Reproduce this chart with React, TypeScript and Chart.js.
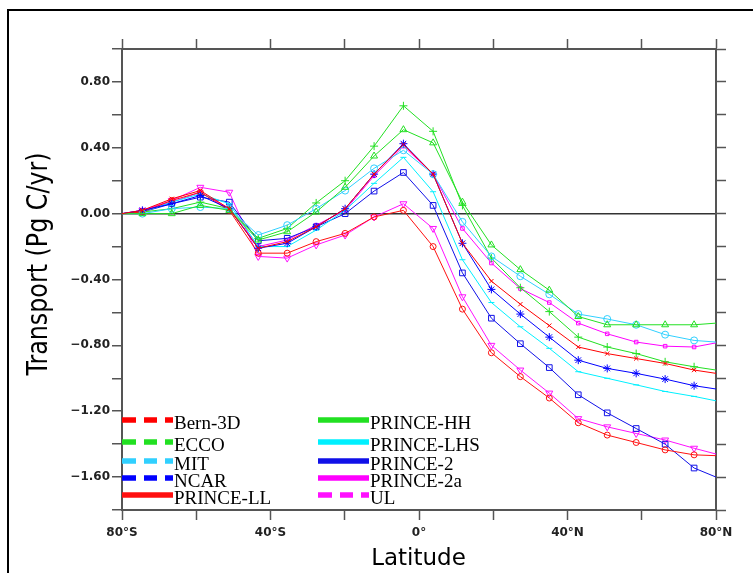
import React, { useEffect, useRef } from "react";
import { Chart, registerables } from "chart.js";

Chart.register(...registerables);

// Latitudes of the data points (degrees, negative = south)
const lats = [-80, -74.5, -66.6, -58.9, -51.1, -43.3, -35.5, -27.7, -19.9, -12.1, -4.2, 3.8, 11.7, 19.5, 27.3, 35.1, 42.9, 50.7, 58.5, 66.3, 74.1, 80];

// Transport values (Pg C/yr)
const bern3D = [0, 0.02, 0.09, 0.14, 0.03, -0.21, -0.17, -0.08, 0.03, 0.24, 0.42, 0.24, -0.18, -0.41, -0.55, -0.68, -0.81, -0.85, -0.88, -0.91, -0.95, -0.97];
const ecco = [0, 0.0, 0.0, 0.05, 0.02, -0.16, -0.11, 0.01, 0.16, 0.35, 0.51, 0.43, 0.07, -0.19, -0.34, -0.465, -0.625, -0.675, -0.675, -0.675, -0.675, -0.665];
const mit = [0, 0.0, 0.03, 0.04, 0.03, -0.13, -0.07, 0.03, 0.14, 0.275, 0.385, 0.24, -0.05, -0.26, -0.38, -0.49, -0.61, -0.64, -0.675, -0.735, -0.77, -0.78];
const ncar = [0, 0.02, 0.06, 0.11, 0.03, -0.21, -0.18, -0.08, 0.03, 0.24, 0.425, 0.24, -0.18, -0.46, -0.61, -0.75, -0.89, -0.94, -0.97, -1.005, -1.045, -1.065];
const princeLL = [0, 0.01, 0.08, 0.13, 0.02, -0.24, -0.24, -0.17, -0.12, -0.02, 0.02, -0.2, -0.58, -0.845, -0.99, -1.12, -1.27, -1.345, -1.39, -1.435, -1.465, -1.47];
const princeHH = [0, 0.01, 0.03, 0.07, 0.03, -0.15, -0.09, 0.065, 0.2, 0.41, 0.655, 0.5, 0.05, -0.27, -0.45, -0.595, -0.75, -0.81, -0.85, -0.9, -0.93, -0.95];
const princeLHS = [0, 0.01, 0.07, 0.12, 0.06, -0.2, -0.2, -0.1, 0.02, 0.184, 0.342, 0.133, -0.28, -0.54, -0.687, -0.818, -0.96, -1.0, -1.04, -1.08, -1.11, -1.137];
const prince2 = [0, 0.01, 0.06, 0.1, 0.07, -0.165, -0.15, -0.08, 0.0, 0.137, 0.25, 0.05, -0.36, -0.635, -0.79, -0.935, -1.1, -1.21, -1.305, -1.4, -1.545, -1.6];
const prince2a = [0, 0.02, 0.07, 0.13, 0.03, -0.2, -0.16, -0.07, 0.02, 0.23, 0.41, 0.24, -0.09, -0.3, -0.455, -0.54, -0.665, -0.73, -0.78, -0.805, -0.81, -0.785];
const ul = [0, 0.02, 0.08, 0.16, 0.13, -0.26, -0.27, -0.19, -0.13, -0.02, 0.06, -0.09, -0.505, -0.8, -0.95, -1.09, -1.245, -1.295, -1.335, -1.375, -1.425, -1.46];

// x-axis labelled ticks
const xTickLabels: Record<string, string> = { "-80": "80°S", "-40": "40°S", "0": "0°", "40": "40°N", "80": "80°N" };

// Series definitions (legend order: left column then right column)
const series = [
  { label: "Bern-3D", values: bern3D, color: "#ff0000", marker: "crossRot", size: 3, rot: 0, dashed: true },
  { label: "ECCO", values: ecco, color: "#22e022", marker: "triangle", size: 4, rot: 0, dashed: true },
  { label: "MIT", values: mit, color: "#30d0ff", marker: "circle", size: 3.5, rot: 0, dashed: true },
  { label: "NCAR", values: ncar, color: "#0000ff", marker: "star", size: 4, rot: 0, dashed: true },
  { label: "PRINCE-LL", values: princeLL, color: "#ff1010", marker: "circle", size: 3, rot: 0, dashed: false },
  { label: "PRINCE-HH", values: princeHH, color: "#22e022", marker: "cross", size: 4, rot: 0, dashed: false },
  { label: "PRINCE-LHS", values: princeLHS, color: "#00f0ff", marker: "line", size: 3, rot: 0, dashed: false },
  { label: "PRINCE-2", values: prince2, color: "#1010e8", marker: "rect", size: 4, rot: 0, dashed: false },
  { label: "PRINCE-2a", values: prince2a, color: "#ff00ff", marker: "rect", size: 2.5, rot: 0, dashed: false },
  { label: "UL", values: ul, color: "#ff10ff", marker: "triangle", size: 4, rot: 180, dashed: true },
];

const overlayPlugin = {
  id: "overlay",
  afterDraw(chart: any) {
    const ctx = chart.ctx as CanvasRenderingContext2D;
    const area = chart.chartArea;
    ctx.save();
    // outer frame
    ctx.strokeStyle = "#000";
    ctx.lineWidth = 2;
    ctx.strokeRect(8, 10, 800, 700);

    // y title
    ctx.save();
    ctx.translate(46.5, 264);
    ctx.rotate(-Math.PI / 2);
    ctx.scale(0.82, 1);
    ctx.font = "29px 'DejaVu Sans'";
    ctx.fillStyle = "#000";
    ctx.textAlign = "center";
    ctx.textBaseline = "alphabetic";
    ctx.fillText("Transport (Pg C/yr)", 0, 0);
    ctx.restore();

    // x title
    ctx.font = "23px 'DejaVu Sans'";
    ctx.fillStyle = "#000";
    ctx.textAlign = "center";
    ctx.textBaseline = "alphabetic";
    ctx.fillText("Latitude", (area.left + area.right) / 2 - 0.5, 565);

    // legend
    const rows = [420, 442, 461, 478, 495];
    const cols = [area.left, area.left + 196];
    const lineLen = 51;
    ctx.textAlign = "left";
    ctx.font = "19px 'Liberation Serif'";
    chart.data.datasets.forEach((ds: any, i: number) => {
      const col = Math.floor(i / 5);
      const row = i % 5;
      const x0 = cols[col];
      const y = rows[row];
      ctx.save();
      ctx.beginPath();
      ctx.rect(x0, y - 5, lineLen, 10);
      ctx.clip();
      ctx.beginPath();
      ctx.strokeStyle = ds.borderColor;
      ctx.lineWidth = 5.5;
      ctx.lineCap = "butt";
      if (series[i].dashed) ctx.setLineDash([14, 8, 13, 8]);
      ctx.moveTo(x0, y);
      ctx.lineTo(x0 + lineLen, y);
      ctx.stroke();
      ctx.restore();
      ctx.fillStyle = "#000";
      ctx.fillText(ds.label, x0 + lineLen + 1, y + 9);
    });
    ctx.restore();
  },
};

export default function App() {
  const ref = useRef<HTMLCanvasElement>(null);
  useEffect(() => {
    if (!ref.current) return;
    const n = lats.length;
    const tickFont = { family: "'DejaVu Sans'", size: 12, weight: "bold" as const };
    const axisCommon = {
      border: { display: true, color: "#555", width: 2 },
    };
    const chart = new Chart(ref.current, {
      type: "line",
      data: {
        datasets: series.map((s) => ({
          label: s.label,
          data: lats.map((lat, i) => ({ x: lat, y: s.values[i] })),
          borderColor: s.color,
          backgroundColor: "rgba(0,0,0,0)",
          borderWidth: 1,
          pointStyle: s.marker as any,
          pointRotation: s.rot,
          pointRadius: (c: any) => (c.dataIndex === 0 || c.dataIndex === n - 1 ? 0 : s.size),
          pointBorderWidth: 1,
          pointBorderColor: s.color,
          pointBackgroundColor: "rgba(0,0,0,0)",
          tension: 0,
          fill: false,
        })),
      },
      options: {
        animation: false,
        responsive: false,
        devicePixelRatio: 1,
        layout: { padding: 0 },
        plugins: { legend: { display: false }, tooltip: { enabled: false } },
        scales: {
          x: {
            type: "linear",
            position: "bottom",
            min: -80,
            max: 80,
            ...axisCommon,
            ticks: {
              stepSize: 20,
              autoSkip: false,
              maxRotation: 0,
              padding: 6,
              color: "#222",
              font: tickFont,
              callback: (v: any) => xTickLabels[String(Math.round(Number(v)))] ?? "",
            },
            grid: { drawOnChartArea: false, tickLength: 10, tickColor: "#555", tickWidth: 1.5 },
            afterFit: (s: any) => { s.height = 63; },
          },
          x2: {
            type: "linear",
            position: "top",
            min: -80,
            max: 80,
            ...axisCommon,
            ticks: { stepSize: 20, autoSkip: false, callback: () => "", font: tickFont },
            grid: { drawOnChartArea: false, tickLength: 10, tickColor: "#555", tickWidth: 1.5 },
            afterFit: (s: any) => { s.height = 49; },
          },
          y: {
            type: "linear",
            position: "left",
            min: -1.8,
            max: 1.0,
            ...axisCommon,
            ticks: {
              stepSize: 0.2,
              autoSkip: false,
              padding: 2,
              color: "#222",
              font: tickFont,
              callback: (v: any) => {
                const r = Math.round(Number(v) * 10) / 10;
                const q = r / 0.4;
                if (Math.abs(q - Math.round(q)) < 1e-6 && r > -1.79 && r < 0.99) {
                  return (r < 0 ? "−" : "") + Math.abs(r).toFixed(2);
                }
                return "";
              },
            },
            grid: {
              drawOnChartArea: true,
              color: (c: any) => (c.tick && Math.abs(c.tick.value) < 1e-9 ? "#333" : "rgba(0,0,0,0)"),
              lineWidth: 1.5,
              tickLength: 10,
              tickColor: "#555",
              tickWidth: 1.5,
            },
            afterFit: (s: any) => { s.width = 122; },
          },
          y2: {
            type: "linear",
            position: "right",
            min: -1.8,
            max: 1.0,
            ...axisCommon,
            ticks: { stepSize: 0.2, autoSkip: false, callback: () => "", font: tickFont },
            grid: { drawOnChartArea: false, tickLength: 10, tickColor: "#555", tickWidth: 1.5 },
            afterFit: (s: any) => { s.width = 37; },
          },
        },
      } as any,
      plugins: [overlayPlugin],
    });
    return () => chart.destroy();
  }, []);

  return (
    <div style={{ position: "fixed", left: 0, top: 0, width: 753, height: 573, background: "#fff" }}>
      <canvas ref={ref} width={753} height={573} style={{ width: 753, height: 573, display: "block" }} />
    </div>
  );
}
